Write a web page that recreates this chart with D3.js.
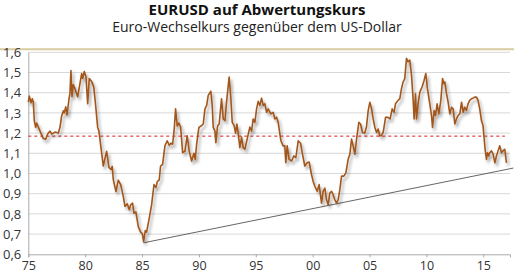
<!DOCTYPE html>
<html>
<head>
<meta charset="utf-8">
<title>EURUSD auf Abwertungskurs</title>
<style>
  body { margin: 0; background: #fff; }
  svg text { font-family: "Open Sans", "Noto Sans", sans-serif; fill: #333; }
</style>
</head>
<body>
<svg id="chart"></svg>
<script src="https://d3js.org/d3.v7.min.js"></script>
<script>
// EURUSD, decimal years
const dates = [1975.00, 1975.09, 1975.24, 1975.35, 1975.44, 1975.53, 1975.65, 1975.74, 1975.88, 1976.03,
  1976.32, 1976.53, 1976.70, 1976.91, 1977.06, 1977.35, 1977.64, 1977.79, 1977.93, 1978.08,
  1978.16, 1978.29, 1978.40, 1978.58, 1978.66, 1978.75, 1978.84, 1978.95, 1979.10, 1979.34,
  1979.54, 1979.69, 1979.78, 1979.92, 1980.07, 1980.22, 1980.36, 1980.57, 1980.75, 1980.92,
  1981.10, 1981.21, 1981.39, 1981.59, 1981.89, 1982.09, 1982.27, 1982.38, 1982.47, 1982.71,
  1982.91, 1983.12, 1983.35, 1983.50, 1983.70, 1983.88, 1984.00, 1984.17, 1984.29, 1984.46,
  1984.67, 1984.88, 1985.02, 1985.14, 1985.28, 1985.40, 1985.63, 1985.84, 1986.05, 1986.22,
  1986.34, 1986.51, 1986.63, 1986.81, 1987.01, 1987.21, 1987.39, 1987.54, 1987.69, 1987.83,
  1987.95, 1988.09, 1988.24, 1988.39, 1988.57, 1988.77, 1988.97, 1989.15, 1989.36, 1989.56,
  1989.68, 1989.80, 1990.00, 1990.18, 1990.38, 1990.53, 1990.68, 1990.82, 1991.05, 1991.17,
  1991.26, 1991.41, 1991.49, 1991.64, 1991.78, 1991.99, 1992.14, 1992.29, 1992.43, 1992.66,
  1992.81, 1992.93, 1993.10, 1993.22, 1993.34, 1993.45, 1993.60, 1993.75, 1993.89, 1994.04,
  1994.28, 1994.48, 1994.63, 1994.77, 1994.92, 1995.07, 1995.21, 1995.36, 1995.51, 1995.65,
  1995.80, 1995.95, 1996.09, 1996.33, 1996.53, 1996.68, 1996.83, 1996.97, 1997.21, 1997.41,
  1997.55, 1997.64, 1997.76, 1997.93, 1998.15, 1998.35, 1998.52, 1998.73, 1998.94, 1999.11,
  1999.31, 1999.52, 1999.69, 1999.90, 2000.04, 2000.19, 2000.40, 2000.57, 2000.78, 2000.92,
  2001.07, 2001.22, 2001.36, 2001.51, 2001.66, 2001.80, 2001.95, 2002.10, 2002.24, 2002.39,
  2002.54, 2002.74, 2002.92, 2003.12, 2003.27, 2003.42, 2003.56, 2003.71, 2003.86, 2004.06,
  2004.21, 2004.38, 2004.58, 2004.73, 2004.88, 2005.03, 2005.18, 2005.32, 2005.47, 2005.62,
  2005.76, 2005.90, 2006.05, 2006.20, 2006.41, 2006.63, 2006.81, 2006.99, 2007.16, 2007.28,
  2007.51, 2007.66, 2007.81, 2007.95, 2008.10, 2008.25, 2008.39, 2008.54, 2008.69, 2008.83,
  2008.92, 2009.04, 2009.13, 2009.27, 2009.42, 2009.62, 2009.80, 2009.95, 2010.09, 2010.30,
  2010.45, 2010.54, 2010.68, 2010.80, 2010.94, 2011.09, 2011.27, 2011.42, 2011.53, 2011.62,
  2011.77, 2011.91, 2012.06, 2012.21, 2012.35, 2012.50, 2012.64, 2012.79, 2012.94, 2013.09,
  2013.23, 2013.37, 2013.52, 2013.66, 2013.81, 2013.96, 2014.10, 2014.25, 2014.40, 2014.54,
  2014.69, 2014.84, 2014.98, 2015.07, 2015.16, 2015.28, 2015.37, 2015.48, 2015.57, 2015.72,
  2015.87, 2016.02, 2016.16, 2016.30, 2016.45, 2016.60, 2016.74, 2016.89, 2017.04];
const rates = [1.353, 1.383, 1.350, 1.370, 1.353, 1.260, 1.228, 1.250, 1.230, 1.210,
  1.173, 1.170, 1.195, 1.210, 1.195, 1.205, 1.200, 1.230, 1.285, 1.310,
  1.300, 1.330, 1.290, 1.370, 1.395, 1.510, 1.380, 1.440, 1.420, 1.380,
  1.445, 1.495, 1.470, 1.505, 1.480, 1.345, 1.470, 1.455, 1.430, 1.337,
  1.228, 1.210, 1.128, 1.037, 1.110, 1.030, 1.020, 1.035, 0.970, 0.910,
  0.967, 0.945, 0.887, 0.837, 0.850, 0.820, 0.845, 0.853, 0.803, 0.810,
  0.737, 0.710, 0.703, 0.662, 0.717, 0.710, 0.778, 0.845, 0.945, 0.930,
  0.960, 0.968, 1.037, 1.045, 1.137, 1.162, 1.140, 1.150, 1.145, 1.220,
  1.320, 1.235, 1.250, 1.230, 1.103, 1.110, 1.187, 1.110, 1.062, 1.100,
  1.070, 1.145, 1.228, 1.235, 1.245, 1.320, 1.337, 1.387, 1.407, 1.337,
  1.228, 1.210, 1.153, 1.235, 1.245, 1.370, 1.270, 1.262, 1.353, 1.478,
  1.370, 1.253, 1.237, 1.200, 1.245, 1.200, 1.128, 1.180, 1.128, 1.120,
  1.180, 1.230, 1.210, 1.270, 1.253, 1.320, 1.357, 1.337, 1.373, 1.337,
  1.345, 1.303, 1.320, 1.295, 1.303, 1.270, 1.278, 1.253, 1.162, 1.137,
  1.137, 1.053, 1.137, 1.070, 1.062, 1.087, 1.078, 1.162, 1.150, 1.095,
  1.037, 1.053, 1.057, 0.995, 0.962, 0.937, 0.912, 0.945, 0.853, 0.912,
  0.928, 0.870, 0.845, 0.903, 0.912, 0.895, 0.870, 0.853, 0.870, 0.920,
  0.987, 0.987, 1.003, 1.070, 1.095, 1.170, 1.137, 1.095, 1.170, 1.253,
  1.245, 1.203, 1.200, 1.230, 1.310, 1.353, 1.320, 1.270, 1.228, 1.203,
  1.220, 1.187, 1.187, 1.203, 1.278, 1.278, 1.270, 1.320, 1.303, 1.345,
  1.362, 1.370, 1.420, 1.453, 1.470, 1.570, 1.553, 1.562, 1.487, 1.370,
  1.270, 1.395, 1.270, 1.345, 1.403, 1.428, 1.462, 1.495, 1.420, 1.345,
  1.287, 1.228, 1.312, 1.287, 1.345, 1.295, 1.362, 1.470, 1.445, 1.453,
  1.395, 1.353, 1.295, 1.328, 1.320, 1.245, 1.270, 1.287, 1.295, 1.353,
  1.303, 1.328, 1.312, 1.345, 1.362, 1.370, 1.373, 1.378, 1.378, 1.362,
  1.320, 1.262, 1.237, 1.178, 1.120, 1.070, 1.103, 1.087, 1.103, 1.112,
  1.095, 1.053, 1.087, 1.112, 1.137, 1.103, 1.112, 1.120, 1.053];

const meanLevel = 1.185;                 // dashed average line
const trendDates = [1985.14, 2017.65];   // support line from the 1985 low
const trendValues = [0.657, 1.027];
const yTicks = [0.6, 0.7, 0.8, 0.9, 1.0, 1.1, 1.2, 1.3, 1.4, 1.5, 1.6];
const xTicks = [1975, 1980, 1985, 1990, 1995, 2000, 2005, 2010, 2015];
const xDomain = [1975, 2017.35];

const title = "EURUSD auf Abwertungskurs";
const subtitle = "Euro-Wechselkurs gegenüber dem US-Dollar";

const W = 514, H = 274;
const margin = { top: 52.3, right: 4, bottom: 19.7, left: 28.3 };

const svg = d3.select("#chart").attr("width", W).attr("height", H);

const defs = svg.append("defs");
const f = defs.append("filter").attr("id", "shadow")
  .attr("x", "-5%").attr("y", "-5%").attr("width", "110%").attr("height", "115%");
f.append("feDropShadow").attr("dx", 2).attr("dy", 3).attr("stdDeviation", 1.4)
  .attr("flood-color", "#000").attr("flood-opacity", 0.35);

const x = d3.scaleLinear().domain(xDomain).range([margin.left, W - margin.right]);
const y = d3.scaleLinear().domain([0.6, 1.6]).range([H - margin.bottom, margin.top]);

// titles
svg.append("text").attr("x", W / 2).attr("y", 14.5).attr("text-anchor", "middle")
  .style("font-size", "15px").style("font-weight", "bold").style("fill", "#111").text(title);
svg.append("text").attr("x", W / 2).attr("y", 31.5).attr("text-anchor", "middle")
  .style("font-size", "14px").style("fill", "#222").text(subtitle);
svg.append("line").attr("x1", 0).attr("x2", W).attr("y1", 49.3).attr("y2", 49.3)
  .attr("stroke", "#d9cba0").attr("stroke-width", 2);

// grid
svg.append("g").selectAll("line").data(yTicks.slice(1)).join("line")
  .attr("x1", margin.left).attr("x2", W - margin.right)
  .attr("y1", d => y(d)).attr("y2", d => y(d))
  .attr("stroke", "#d8d8d8").attr("stroke-width", 1);

// y axis
const yAxis = svg.append("g").attr("transform", `translate(${margin.left},0)`)
  .call(d3.axisLeft(y).tickValues(yTicks).tickSize(0).tickPadding(7)
    .tickFormat(d => d3.format(".1f")(d).replace(".", ",")));
yAxis.select(".domain").attr("stroke", "#aaa");
yAxis.selectAll("text").style("font-size", "13px").style("font-family", null);

// x axis
const xAxis = svg.append("g").attr("transform", `translate(0,${y(0.6)})`)
  .call(d3.axisBottom(x).tickValues(xTicks).tickSize(3)
    .tickFormat(d => String(d).slice(2)));
xAxis.select(".domain").attr("stroke", "#aaa");
xAxis.selectAll(".tick line").attr("stroke", "#aaa");
xAxis.selectAll("text").attr("y", 16).attr("dy", null)
  .style("font-size", "12.5px").style("font-family", null);

// average line
svg.append("line")
  .attr("x1", margin.left).attr("x2", x(2016.9))
  .attr("y1", y(meanLevel)).attr("y2", y(meanLevel))
  .attr("stroke", "#e3161b").attr("stroke-width", 1).attr("stroke-dasharray", "3,3");

// trend line
svg.append("line")
  .attr("x1", x(trendDates[0])).attr("x2", x(trendDates[1]))
  .attr("y1", y(trendValues[0])).attr("y2", y(trendValues[1]))
  .attr("stroke", "#555").attr("stroke-width", 0.9);

// rate line
const series = dates.map((d, i) => ({ t: d, v: rates[i] }));
svg.append("path").datum(series)
  .attr("fill", "none").attr("stroke", "#a3561b").attr("stroke-width", 1.6)
  .attr("stroke-linejoin", "round").attr("filter", "url(#shadow)")
  .attr("d", d3.line().x(d => x(d.t)).y(d => y(d.v)));
</script>
</body>
</html>
